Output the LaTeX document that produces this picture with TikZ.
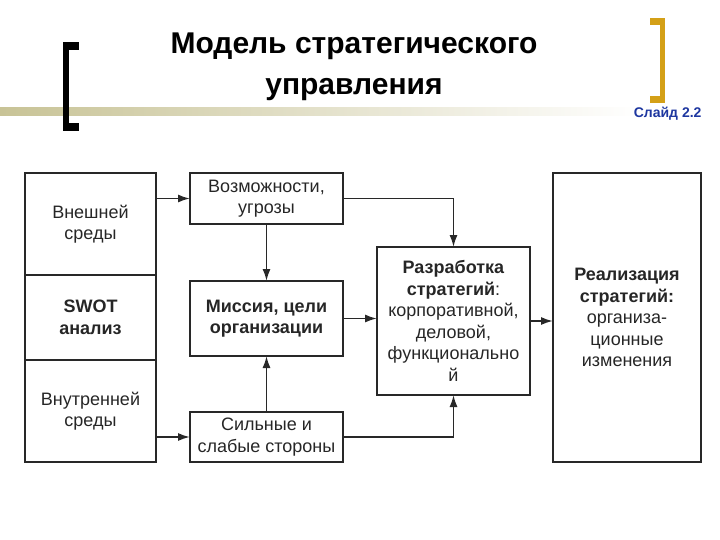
\documentclass[tikz,border=0pt]{standalone}
\usepackage{fontspec}
\setmainfont{Liberation Sans}
\usepackage{xcolor}
\usepackage{tikz}
\usetikzlibrary{positioning}
\usetikzlibrary{arrows.meta}
\definecolor{rahmen}{RGB}{40,40,40}
\definecolor{zoloto}{RGB}{212,160,23}
\definecolor{polosa}{RGB}{200,195,150}
\definecolor{slajdblau}{RGB}{30,55,160}
\tikzset{
  Blok/.style={draw=rahmen,line width=1.7pt,inner sep=0pt,outer sep=0pt,
    align=center,text=black!85,font=\fontsize{18}{21.5}\selectfont}, % Kaesten
  Strelka/.style={draw=rahmen,line width=1.7pt,->}, % Pfeile
  Skobka/.style={fill=#1} % Klammern
}

\begin{document}
\begin{tikzpicture}[x=1pt,y=-1pt,
>={Latex[length=12pt,width=8pt]} % Pfeilspitzen
]
\useasboundingbox (0,0) rectangle (720,540);

%Kopf
\shade[left color=polosa,right color=white] (0,108) rectangle (640,116);
\fill[Skobka=black] (63,42) rectangle (69,131);
\fill[Skobka=black] (63,42) rectangle (79,50);
\fill[Skobka=black] (63,123) rectangle (79,131);
\fill[Skobka=zoloto] (660,18) rectangle (665,103);
\fill[Skobka=zoloto] (650,18) rectangle (665,25);
\fill[Skobka=zoloto] (650,96) rectangle (665,103);
\node[align=center,font=\fontsize{30}{41}\selectfont\bfseries] (titel) at (354,67)
  {Модель стратегического\\управления};
\node[anchor=base east,text=slajdblau,font=\fontsize{14}{16}\selectfont\bfseries]
  (slajd) at (705,118) {Слайд 2.2};

%Kaesten
\node[Blok,minimum width=131pt,minimum height=102pt] (vnesh) at (90.5,224) {Внешней\\среды};
\node[Blok,minimum width=131pt,minimum height=85pt,below=0pt of vnesh] (swot) {\textbf{SWOT}\\\textbf{анализ}};
\node[Blok,minimum width=131pt,minimum height=102pt,below=0pt of swot] (vnutr) {Внутренней\\среды};

\node[Blok,minimum width=153pt,minimum height=51pt] (vozm) at (266.5,198.5) {Возможности,\\угрозы};
\node[Blok,minimum width=153pt,minimum height=75pt] (missia) at (266.5,318.5) {\textbf{Миссия, цели}\\\textbf{организации}};
\node[Blok,minimum width=153pt,minimum height=50pt] (silnye) at (266.5,437) {Сильные и\\слабые стороны};

\node[Blok,minimum width=153pt,minimum height=148pt] (razrab) at (453.5,321)
  {\textbf{Разработка}\\\textbf{стратегий}:\\корпоративной,\\деловой,\\функционально\\й};
\node[Blok,minimum width=148pt,minimum height=289pt] (realiz) at (627,317.5)
  {\textbf{Реализация}\\\textbf{стратегий:}\\организа-\\ционные\\изменения};

%Pfeile
\draw[Strelka] (vozm.west -| vnesh.east) -- (vozm.west);
\draw[Strelka] (silnye.west -| vnutr.east) -- (silnye.west);
\draw[Strelka] (vozm.south) -- (missia.north);
\draw[Strelka] (silnye.north) -- (missia.south);
\draw[Strelka] (vozm.east) -| (razrab.north);
\draw[Strelka] (silnye.east) -| (razrab.south);
\draw[Strelka] (missia.east) -- (missia.east -| razrab.west);
\draw[Strelka] (razrab.east) -- (razrab.east -| realiz.west);

\end{tikzpicture}
\end{document}
